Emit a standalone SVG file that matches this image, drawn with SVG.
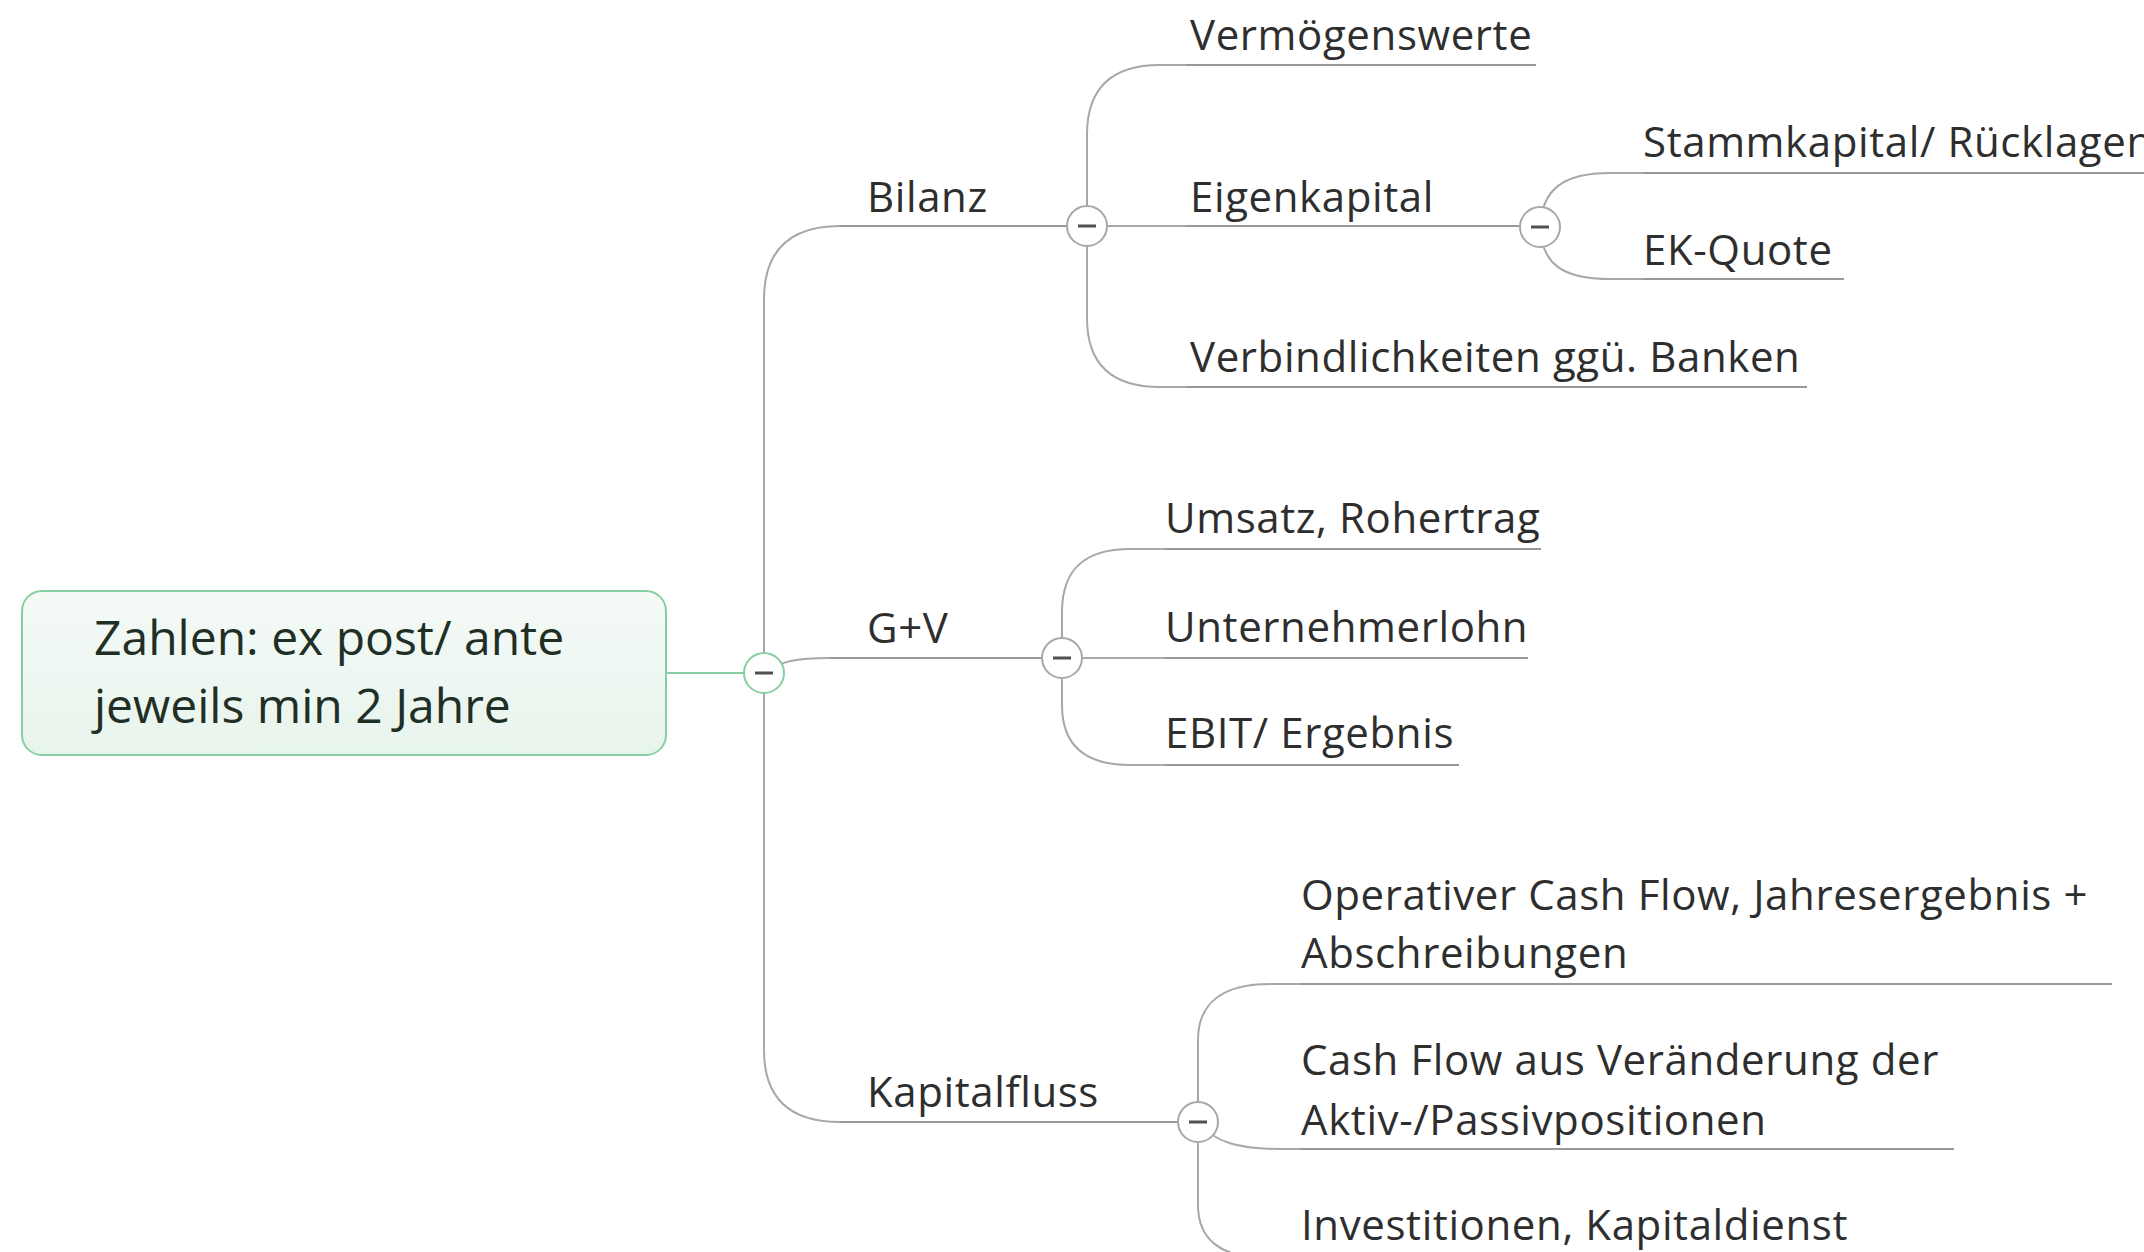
<svg xmlns="http://www.w3.org/2000/svg" width="2144" height="1252" viewBox="0 0 2144 1252">
<defs>
<linearGradient id="rootFill" x1="0" y1="0" x2="0" y2="1">
<stop offset="0" stop-color="#f5faf7"/>
<stop offset="1" stop-color="#e7f4ec"/>
</linearGradient>
</defs>
<style>
.conn{fill:none;stroke:#a8a8a8;stroke-width:2}
.uline{fill:none;stroke:#999;stroke-width:2}
.green{fill:none;stroke:#86cfa3;stroke-width:2}
.t{font-family:"Open Sans","Noto Sans","DejaVu Sans",sans-serif;font-size:42px;fill:#2e2e2e;letter-spacing:0.6px}
.rt{font-family:"Open Sans","Noto Sans","DejaVu Sans",sans-serif;font-size:48px;fill:#1f2f26}
.tog{fill:#fff;stroke:#a8a8a8;stroke-width:2}
.tog-g{fill:#fff;stroke:#86cfa3;stroke-width:2}
.minus{stroke:#505050;stroke-width:3}
</style>
<g id="connectors">
<path class="green" d="M666 673 L764 673"/>
<path class="conn" d="M764 300 C764 250 790 226 840 226 L1087 226"/>
<path class="conn" d="M764 300 L764 1050 C764 1098 790 1122 840 1122 L1198 1122"/>
<path class="conn" d="M764 673 C782 661 795 658 830 658 L1062 658"/>
<path class="conn" d="M1087 226 L1087 135 C1087 88 1112 65 1160 65 L1186 65"/>
<path class="conn" d="M1087 226 L1186 226"/>
<path class="conn" d="M1087 226 L1087 318 C1087 365 1112 387 1160 387 L1186 387"/>
<path class="conn" d="M1540 227 C1542 190 1562 173 1610 173 L1643 173"/>
<path class="conn" d="M1540 227 C1542 264 1562 279 1610 279 L1643 279"/>
<path class="conn" d="M1062 658 L1062 612 C1062 568 1086 549 1130 549 L1165 549"/>
<path class="conn" d="M1062 658 L1165 658"/>
<path class="conn" d="M1062 658 L1062 705 C1062 746 1086 765 1130 765 L1165 765"/>
<path class="conn" d="M1198 1122 L1198 1040 C1198 1002 1224 984 1270 984 L1300 984"/>
<path class="conn" d="M1198 1122 C1214 1142 1238 1149 1280 1149 L1300 1149"/>
<path class="conn" d="M1198 1122 L1198 1205 C1198 1240 1222 1257 1260 1257 L1300 1257"/>
</g>
<g id="root">
<rect x="22" y="591" width="644" height="164" rx="20" ry="20" fill="url(#rootFill)" stroke="#86cfa3" stroke-width="2"/>
<text class="rt" x="94" y="655">Zahlen: ex post/ ante</text>
<text class="rt" x="94" y="723">jeweils min 2 Jahre</text>
</g>
<g id="toggle-root"><circle class="tog-g" cx="764" cy="673" r="20"/><line class="minus" x1="755" y1="673" x2="773" y2="673"/></g>
<g id="bilanz">
<path class="uline" d="M840 226 L1066 226"/>
<text class="t" x="867" y="212">Bilanz</text>
<circle class="tog" cx="1087" cy="226" r="20"/><line class="minus" x1="1078" y1="226" x2="1096" y2="226"/>
</g>
<g id="vermoegenswerte">
<path class="uline" d="M1186 65 L1536 65"/>
<text class="t" x="1190" y="50">Vermögenswerte</text>
</g>
<g id="eigenkapital">
<path class="uline" d="M1186 226 L1520 226"/>
<text class="t" x="1190" y="212">Eigenkapital</text>
<circle class="tog" cx="1540" cy="227" r="20"/><line class="minus" x1="1531" y1="227" x2="1549" y2="227"/>
</g>
<g id="stammkapital">
<path class="uline" d="M1643 173 L2144 173"/>
<text class="t" x="1643" y="157">Stammkapital/ Rücklagen</text>
</g>
<g id="ekquote">
<path class="uline" d="M1643 279 L1844 279"/>
<text class="t" x="1643" y="265">EK-Quote</text>
</g>
<g id="verbindlichkeiten">
<path class="uline" d="M1186 387 L1807 387"/>
<text class="t" x="1190" y="372">Verbindlichkeiten ggü. Banken</text>
</g>
<g id="guv">
<path class="uline" d="M830 658 L1042 658"/>
<text class="t" x="867" y="643">G+V</text>
<circle class="tog" cx="1062" cy="658" r="20"/><line class="minus" x1="1053" y1="658" x2="1071" y2="658"/>
</g>
<g id="umsatz">
<path class="uline" d="M1165 549 L1541 549"/>
<text class="t" x="1165" y="533">Umsatz, Rohertrag</text>
</g>
<g id="unternehmerlohn">
<path class="uline" d="M1165 658 L1528 658"/>
<text class="t" x="1165" y="642">Unternehmerlohn</text>
</g>
<g id="ebit">
<path class="uline" d="M1165 765 L1459 765"/>
<text class="t" x="1165" y="748">EBIT/ Ergebnis</text>
</g>
<g id="kapitalfluss">
<path class="uline" d="M840 1122 L1178 1122"/>
<text class="t" x="867" y="1107">Kapitalfluss</text>
<circle class="tog" cx="1198" cy="1122" r="20"/><line class="minus" x1="1189" y1="1122" x2="1207" y2="1122"/>
</g>
<g id="operativer">
<path class="uline" d="M1300 984 L2112 984"/>
<text class="t" x="1301" y="910">Operativer Cash Flow, Jahresergebnis +</text>
<text class="t" x="1301" y="968">Abschreibungen</text>
</g>
<g id="cashflow-veraenderung">
<path class="uline" d="M1300 1149 L1954 1149"/>
<text class="t" x="1301" y="1075">Cash Flow aus Veränderung der</text>
<text class="t" x="1301" y="1135">Aktiv-/Passivpositionen</text>
</g>
<g id="investitionen">
<path class="uline" d="M1300 1257 L1900 1257"/>
<text class="t" x="1301" y="1240">Investitionen, Kapitaldienst</text>
</g>
</svg>
